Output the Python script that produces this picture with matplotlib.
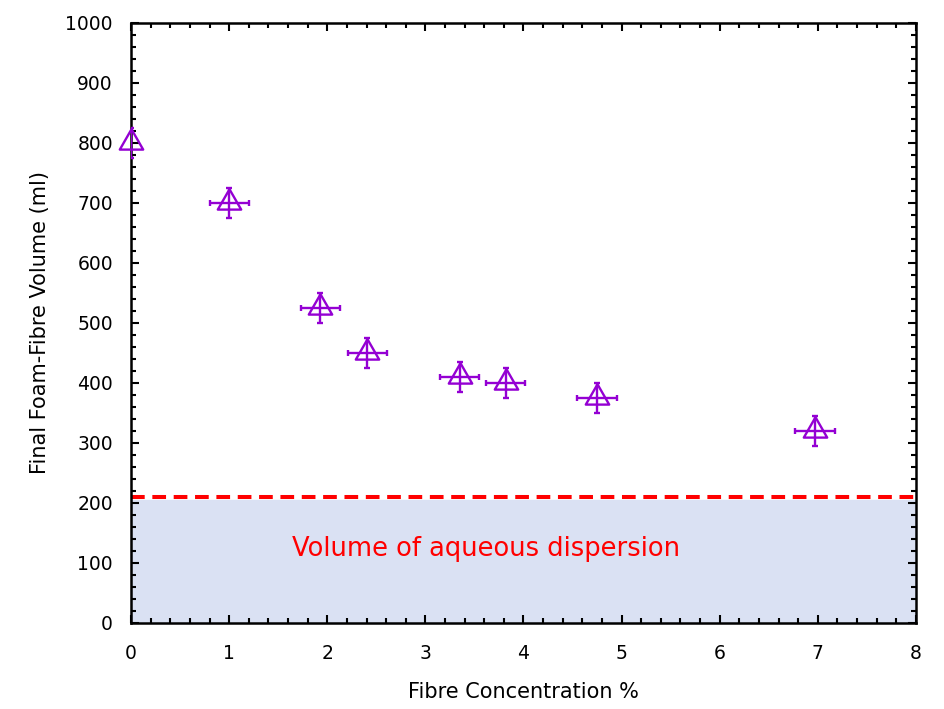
import matplotlib

matplotlib.use("Agg")
import matplotlib.pyplot as plt
from matplotlib.path import Path
from matplotlib.ticker import AutoMinorLocator, MultipleLocator

# dados
concentracao = [0.0, 1.0, 1.93, 2.41, 3.35, 3.82, 4.75, 6.97]
volume = [800, 700, 525, 450, 410, 400, 375, 320]
erro_x = [0.0, 0.2, 0.2, 0.2, 0.2, 0.2, 0.2, 0.2]
erro_y = [25, 25, 25, 25, 25, 25, 25, 25]
volume_dispersao = 210
faixa_dispersao = 205
rotulo_dispersao = "Volume of aqueous dispersion"

ROXO = "#9400d3"

# triângulo aberto com o ponto mais perto da base (como no original)
triangulo = Path([(0, 14), (-11.5, -6), (11.5, -6), (0, 14)],
                 [Path.MOVETO, Path.LINETO, Path.LINETO, Path.CLOSEPOLY])

fig = plt.figure(figsize=(9.44, 7.09), dpi=100)
ax = fig.add_axes([0.1388, 0.1213, 0.8315, 0.8463])

ax.axhspan(0, faixa_dispersao, color="#dae1f3", zorder=0)
ax.axhline(volume_dispersao, color="#ff0000", ls=(0, (3.4, 1.9)), lw=2.9, zorder=2)
ax.text(3.62, 123, rotulo_dispersao, color="#ff0000", fontsize=18.5,
        ha="center", va="center")

ax.errorbar(concentracao, volume, xerr=erro_x, yerr=erro_y, fmt="none",
            ecolor=ROXO, elinewidth=1.7, capsize=2.3, capthick=1.7, zorder=3)
ax.plot(concentracao, volume, ls="none", marker=triangulo, ms=20.5, mfc="none",
        mec=ROXO, mew=1.7, clip_on=False, zorder=4)

ax.set_xlim(0, 8)
ax.set_ylim(0, 1000)
ax.xaxis.set_major_locator(MultipleLocator(1))
ax.yaxis.set_major_locator(MultipleLocator(100))
ax.xaxis.set_minor_locator(AutoMinorLocator(5))
ax.yaxis.set_minor_locator(AutoMinorLocator(5))
ax.tick_params(which="both", direction="in", top=True, right=True, width=1.5,
               labelsize=13.5)
ax.tick_params(axis="x", which="both", pad=15)
ax.tick_params(axis="y", which="both", pad=13)
ax.tick_params(which="major", length=6)
ax.tick_params(which="minor", length=3.5)
for lado in ax.spines.values():
    lado.set_linewidth(1.8)

ax.set_xlabel("Fibre Concentration %", fontsize=15, labelpad=14)
ax.set_ylabel("Final Foam-Fibre Volume (ml)", fontsize=15, labelpad=11)

fig.savefig("out.png", dpi=100)
